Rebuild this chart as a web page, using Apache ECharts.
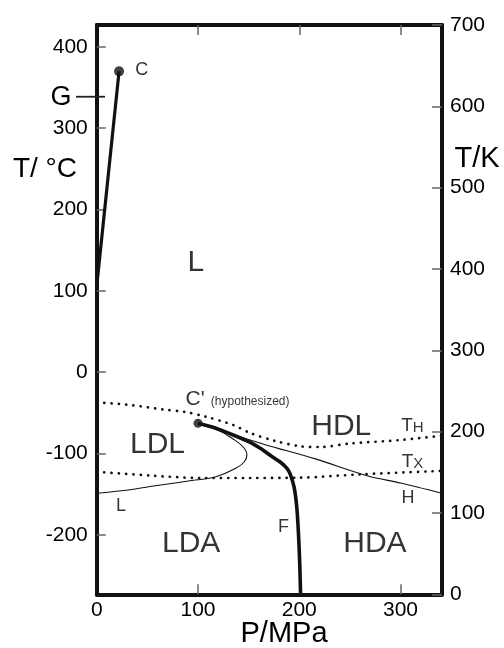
<!DOCTYPE html>
<html><head><meta charset="utf-8">
<script src="https://cdn.jsdelivr.net/npm/echarts@6/dist/echarts.min.js"></script>
<style>html,body{margin:0;padding:0;background:#fff}#c{width:504px;height:648px}</style>
</head><body><div id="c"></div>
<script>
// ---- data (P in MPa, T in K) ----
const pressureLabels = [0, 100, 200, 300];
const pressureTicks = [100, 200, 300];
const celsiusTicks = [-200, -100, 0, 100, 200, 300, 400];

const liquidVapor = [[0, 380], [22, 643]];
const criticalPoint = [[22, 643]];
const secondCriticalPoint = [[100, 210.3]];
const lineF = [[100.1, 210.3], [116.9, 204.5], [134.7, 195.9], [153.5, 185.7], [164, 177.5], [173.3, 169.2], [180.5, 163.3], [186.4, 156.9], [189.2, 152.3], [191.4, 146.7], [194.8, 132.3], [196.8, 116], [198, 100], [199.4, 70], [200.4, 40], [201.3, 0]];
const lineH = [[100.1, 210.3], [131.8, 197.5], [166.4, 184], [215.9, 166.5], [268, 145.5], [300, 136.8], [341, 124.2]];
const lineL = [[100.1, 210.3], [116.9, 203.9], [134.7, 191], [144.6, 181.1], [148.3, 171.3], [145.6, 162.7], [137.7, 155.3], [116.9, 144.2], [97.1, 140.5], [77.3, 136.9], [52.6, 132.5], [30.9, 128.2], [0.2, 124.2]];
const tempH = [[0.2, 236.1], [32.8, 232.8], [64.5, 227.5], [87.2, 224.2], [107, 218.6], [134.7, 208.2], [151.5, 198.3], [176.3, 188.5], [201, 182], [220.8, 181.1], [250.4, 185.4], [299.9, 189.7], [341, 195]];
const tempX = [[0.2, 150.7], [52.6, 146.1], [102.1, 143], [151.5, 143], [201, 143.4], [260.4, 147.5], [341, 151.8]];
const gMarker = [[-20.6, 611.8], [8.1, 611.8]];

const regionLabels = [[97.9, 407.6, 'L'], [60, 183.6, 'LDL'], [241.5, 205.7, 'HDL'], [93.2, 61.8, 'LDA'], [274.7, 61.8, 'HDA']];
const curveLabels = [[44.4, 645, 'C'], [184.5, 83.1, 'F'], [307.3, 118, 'H'], [23.9, 108.6, 'L']];
const primeLabel = [[97.1, 240.1, "C'"]];
const noteLabel = [[151.5, 236.4, '(hypothesized)']];
const tempLabels = [[311.8, 207.5, 'H'], [311.8, 163, 'X']];

// ---- chart ----
const FONT = "'Liberation Sans', Arial, Helvetica, sans-serif";
const INK = '#111';
const chart = echarts.init(document.getElementById('c'), null, {renderer: 'canvas'});

function lineSeries(data, width, extra) {
  return Object.assign({
    type: 'line', data: data, xAxisIndex: 0, yAxisIndex: 1,
    symbol: 'none', silent: true, animation: false,
    lineStyle: {color: INK, width: width}
  }, extra || {});
}
function dotted(data) {
  return lineSeries(data, 2.7, {smooth: 0.3,
    lineStyle: {color: INK, width: 2.7, type: [0.1, 7.2], cap: 'round'}});
}
function textSeries(items, size, rich) {
  return {
    type: 'scatter', xAxisIndex: 0, yAxisIndex: 1, silent: true, animation: false,
    symbolSize: 1, itemStyle: {color: 'transparent'},
    data: items.map(d => ({value: [d[0], d[1]], name: d[2]})),
    label: Object.assign({
      show: true, position: 'inside', color: '#000', fontFamily: FONT, fontSize: size,
      formatter: '{b}', textBorderWidth: 0
    }, rich || {}),
    emphasis: {disabled: true}
  };
}
const axisLine = {show: true, onZero: false, lineStyle: {color: INK, width: 4}};
const tickStyle = {color: '#666', width: 1.5};
const labelStyle = {color: '#000', fontFamily: FONT, fontSize: 21};

const titles = [
  {id: 'tc', type: 'text', x: 45, y: 169, style: {text: 'T/ °C', font: "28px " + FONT, fill: '#000', align: 'center', verticalAlign: 'middle'}},
  {id: 'g', type: 'text', x: 61, y: 97.5, style: {text: 'G', font: "27px " + FONT, fill: '#000', align: 'center', verticalAlign: 'middle'}},
  {id: 'tk', type: 'text', x: 477, y: 159, style: {text: 'T/K', font: "29px " + FONT, fill: '#000', align: 'center', verticalAlign: 'middle'}},
  {id: 'p', type: 'text', x: 284, y: 634, style: {text: 'P/MPa', font: "29px " + FONT, fill: '#000', align: 'center', verticalAlign: 'middle'}}
];

chart.setOption({
  animation: false,
  grid: {left: 96.8, right: 62, top: 25, bottom: 53.7, containLabel: false},
  xAxis: [
    {type: 'value', position: 'bottom', min: 0, max: 341,
     axisLine: axisLine, splitLine: {show: false},
     axisTick: {show: true, inside: true, length: 10, customValues: pressureTicks, lineStyle: tickStyle},
     axisLabel: Object.assign({customValues: pressureLabels, margin: 5}, labelStyle)},
    {type: 'value', position: 'top', min: 0, max: 341,
     axisLine: axisLine, splitLine: {show: false},
     axisTick: {show: true, inside: true, length: 10, customValues: pressureTicks, lineStyle: tickStyle},
     axisLabel: {show: false}}
  ],
  yAxis: [
    {type: 'value', position: 'left', min: -273.15, max: 426.85,
     axisLine: axisLine, splitLine: {show: false},
     axisTick: {show: true, inside: true, length: 9, customValues: celsiusTicks, lineStyle: tickStyle},
     axisLabel: Object.assign({customValues: celsiusTicks, margin: 9}, labelStyle)},
    {type: 'value', position: 'right', min: 0, max: 700, interval: 100,
     axisLine: axisLine, splitLine: {show: false},
     axisTick: {show: true, inside: true, length: 10, lineStyle: tickStyle},
     axisLabel: Object.assign({margin: 8}, labelStyle)}
  ],
  series: [
    dotted(tempH),
    dotted(tempX),
    lineSeries(lineL, 1.1, {smooth: 0.4}),
    lineSeries(lineH, 1.1, {smooth: 0.3}),
    lineSeries(lineF, 3.6, {smooth: 0.3}),
    lineSeries(liquidVapor, 3.2),
    {type: 'scatter', xAxisIndex: 0, yAxisIndex: 1, data: criticalPoint, symbolSize: 10,
     itemStyle: {color: INK}, silent: true, animation: false, clip: false},
    {type: 'scatter', xAxisIndex: 0, yAxisIndex: 1, data: secondCriticalPoint, symbolSize: 9,
     itemStyle: {color: INK}, silent: true, animation: false},
    textSeries(regionLabels, 30),
    textSeries(curveLabels, 18),
    textSeries(primeLabel, 21),
    textSeries(noteLabel, 12),
    textSeries(tempLabels, 19, {
      formatter: '{t|T}{s|{b}}',
      rich: {t: {fontSize: 19, fontFamily: FONT, color: '#000', verticalAlign: 'bottom'},
             s: {fontSize: 15, fontFamily: FONT, color: '#000', verticalAlign: 'bottom'}}
    })
  ],
  graphic: titles
});

// G marker: positioned through the chart's own scales
const gA = chart.convertToPixel({xAxisIndex: 0, yAxisIndex: 1}, gMarker[0]);
const gB = chart.convertToPixel({xAxisIndex: 0, yAxisIndex: 1}, gMarker[1]);
chart.setOption({
  graphic: titles.concat([{id: 'gline', type: 'line', shape: {x1: gA[0], y1: gA[1], x2: gB[0], y2: gB[1]},
    style: {stroke: '#222', lineWidth: 1.8}, z: 10}])
});
</script></body></html>
